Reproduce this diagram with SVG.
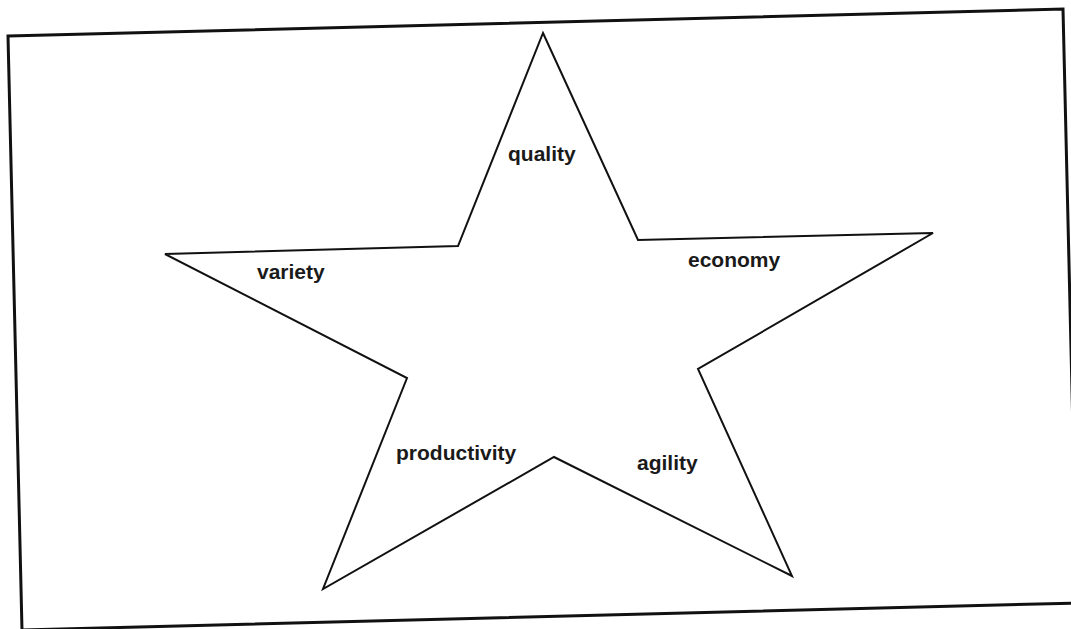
<svg xmlns="http://www.w3.org/2000/svg" width="1071" height="629" viewBox="0 0 1071 629">
  <style>
    .frame { fill: none; stroke: #111; stroke-width: 3; stroke-linejoin: miter; }
    .star { fill: #fff; stroke: #111; stroke-width: 2; stroke-linejoin: miter; }
    .lbl { font-family: "Liberation Sans", Arial, Helvetica, sans-serif; font-size: 21px; font-weight: bold; fill: #1a1a1a; }
  </style>
  <rect x="0" y="0" width="1071" height="629" fill="#fff"/>
  <g id="frame">
    <polygon class="frame" points="8,36 1063,9 1077,603 22,630"/>
  </g>
  <g id="star">
    <polygon class="star" points="543,33 638,240 933,233 698,369 792,576 554,457 323,589 407,378 165,254 458,246"/>
  </g>
  <g id="node-quality"><text class="lbl" x="508" y="161">quality</text></g>
  <g id="node-variety"><text class="lbl" x="257" y="279">variety</text></g>
  <g id="node-economy"><text class="lbl" x="688" y="267">economy</text></g>
  <g id="node-productivity"><text class="lbl" x="396" y="460">productivity</text></g>
  <g id="node-agility"><text class="lbl" x="637" y="470">agility</text></g>
  <g id="connectors"></g>
</svg>
